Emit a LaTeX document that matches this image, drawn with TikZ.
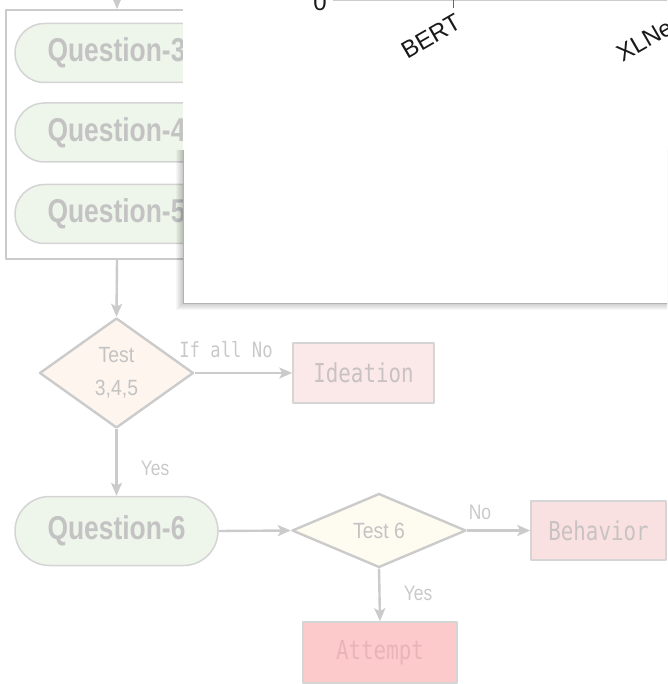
\documentclass[tikz,border=0pt]{standalone}
\usepackage{graphicx}
\usepackage{fontspec}
\setmainfont{Liberation Sans}
\newfontfamily\codefont{DejaVu Sans Mono}
\usetikzlibrary{shapes.geometric,shapes.misc,arrows.meta}

\definecolor{edgegray}{HTML}{CBCBCB}
\definecolor{txtgray}{HTML}{C3C3C3}
\definecolor{pillfill}{HTML}{EEF5EA}
\definecolor{pillline}{HTML}{D4D4D4}
\definecolor{decfillA}{HTML}{FDF5EE}
\definecolor{decfillB}{HTML}{FEFBF0}
\definecolor{ideafill}{HTML}{FBE9E9}
\definecolor{behfill}{HTML}{F9E1E2}
\definecolor{attfill}{HTML}{FDCACC}
\definecolor{atttext}{HTML}{E8B4B8}
\definecolor{boxtext}{HTML}{C9C2C2}

\newcommand{\narrowtxt}[2]{\scalebox{#1}[1]{#2}}

\begin{document}
\begin{tikzpicture}[x=1pt,y=-1pt,line join=round,
  flow/.style={draw=edgegray,line width=2.4pt,
    -{Stealth[length=13pt,width=11pt,inset=3pt]}},
  pill/.style={rounded rectangle,draw=pillline,line width=1.5pt,fill=pillfill,
    minimum width=203pt,inner sep=0pt,text=txtgray,
    font=\fontsize{33}{40}\selectfont\bfseries},
  decision/.style={diamond,draw=edgegray,line width=2.4pt,inner sep=0pt,
    text=txtgray,align=center,font=\fontsize{22}{26}\selectfont},
  outbox/.style={rectangle,draw=edgegray!80,line width=1.5pt,inner sep=0pt,
    font=\codefont\fontsize{26}{30}\selectfont},
  edgelabel/.style={text=txtgray!90,font=\fontsize{21}{25}\selectfont,inner sep=0pt},
  codelabel/.style={text=txtgray!90,font=\codefont\fontsize{21}{25}\selectfont,inner sep=0pt},
  axislabel/.style={text=black!90,font=\fontsize{24}{28}\selectfont,inner sep=2pt}]

\useasboundingbox (0,0) rectangle (667,684);
\clip (0,0) rectangle (667,684);

% ---------- flowchart ----------
\node[rectangle,draw=edgegray,line width=2pt,minimum width=222pt,
  minimum height=249pt,inner sep=0pt] (grp) at (117,134.5) {};
\coordinate (topin) at (117,-8);
\draw[flow] (topin) -- (grp.north);

\node[pill,minimum height=59pt] (q3) at (116.5,53) {\narrowtxt{0.8}{Question-3}};
\node[pill,minimum height=59pt] (q4) at (116.5,132.5) {\narrowtxt{0.8}{Question-4}};
\node[pill,minimum height=59pt] (q5) at (116.5,214) {\narrowtxt{0.8}{Question-5}};

\node[decision,fill=decfillA,minimum width=154pt,minimum height=110pt]
  (t345) at (116.5,373) {\narrowtxt{0.88}{Test}\\[7pt]\narrowtxt{0.88}{3,4,5}};
\draw[flow] (grp.south) -- (t345.north);

\node[outbox,fill=ideafill,text=boxtext,minimum width=141pt,minimum height=60pt]
  (idea) at (363.5,373) {\narrowtxt{0.8}{Ideation}};
\draw[flow] (t345.east) -- (idea.west);
\node[codelabel] (ifno) at (226,350) {\narrowtxt{0.82}{If all No}};

\node[pill,minimum height=69pt] (q6) at (116.5,531) {\narrowtxt{0.8}{Question-6}};
\draw[flow] (t345.south) -- (q6.north);
\node[edgelabel] (yes1) at (155,468) {\narrowtxt{0.83}{Yes}};

\node[decision,fill=decfillB,minimum width=174pt,minimum height=74pt]
  (t6) at (379,530.5) {\narrowtxt{0.88}{Test 6}};
\draw[flow] (q6.east) -- (t6.west);

\node[outbox,fill=behfill,text=boxtext,minimum width=135pt,minimum height=59pt]
  (beh) at (598.5,530.5) {\narrowtxt{0.8}{Behavior}};
\draw[flow] (t6.east) -- (beh.west);
\node[edgelabel] (no6) at (480,512) {\narrowtxt{0.83}{No}};

\node[outbox,fill=attfill,text=atttext,minimum width=154pt,minimum height=61pt]
  (att) at (380,652.5) {\narrowtxt{0.8}{Attempt}};
\draw[flow] (t6.south) -- (att.north);
\node[edgelabel] (yes6) at (418,593) {\narrowtxt{0.83}{Yes}};

% ---------- chart panel on top ----------
\fill[white] (183,-10) rectangle (680,150);
\foreach \k in {1,...,7}
  \fill[black,opacity=0.03] (183-\k,150) rectangle (680,303+\k);
\fill[white] (183,150) rectangle (680,303);
\draw[black!30,line width=0.6pt] (183,150) -- (183,303) -- (680,303);

% axis with category ticks
\coordinate (axl) at (333,0.5);
\coordinate (axr) at (680,0.5);
\draw[black!20,line width=0.8pt] (axl) -- (axr);
\coordinate (tickB) at (455,10);
\coordinate (tickX) at (673,12);
\draw[black!60,line width=0.8pt] (453,0) -- (453,8);
\node[axislabel] (zero) at (320,2) {0};
\node[axislabel,rotate=30,anchor=north east] (bert) at (tickB) {BERT};
\node[axislabel,rotate=30,anchor=north east] (xlnet) at (tickX) {XLNet};

\end{tikzpicture}
\end{document}
